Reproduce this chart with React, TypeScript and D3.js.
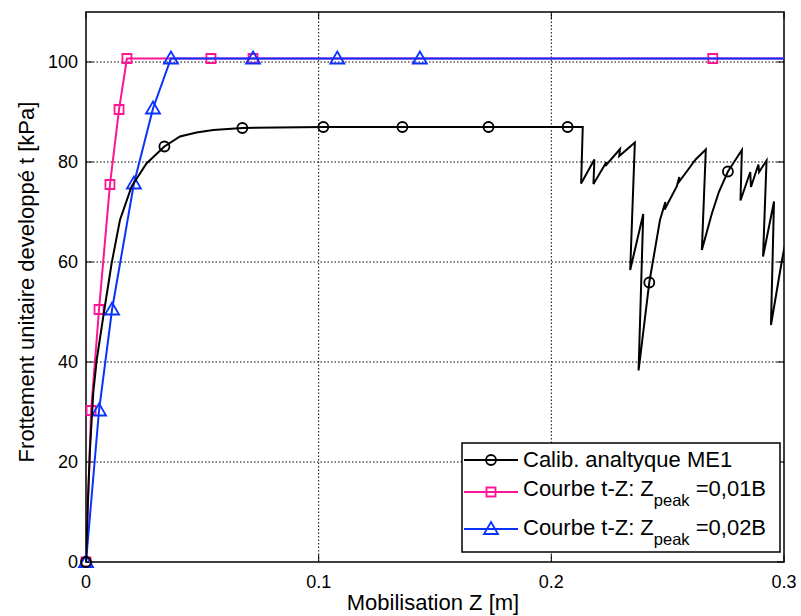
import React from "react";
import * as d3 from "d3";

const W = 801;
const H = 616;
const M = { left: 86, right: 17, top: 12, bottom: 54 };

const xTicks = [0, 0.1, 0.2, 0.3];
const yTicks = [0, 20, 40, 60, 80, 100];

// Calib. analytique ME1 (black, circles)
const calibZ = [0, 0.0008, 0.0017, 0.0031, 0.0046, 0.0074, 0.011, 0.0146, 0.0196, 0.026, 0.0337, 0.0404, 0.0475, 0.0547, 0.0672, 0.102, 0.136, 0.173, 0.207, 0.2135, 0.2128, 0.2185, 0.2181, 0.2237, 0.2232, 0.2295, 0.2292, 0.2359, 0.2339, 0.2395, 0.2375, 0.2421, 0.2467, 0.249, 0.2487, 0.2539, 0.255, 0.2548, 0.2582, 0.262, 0.2664, 0.2647, 0.269, 0.272, 0.2759, 0.2819, 0.2813, 0.2855, 0.2858, 0.289, 0.2893, 0.2925, 0.291, 0.2957, 0.2944, 0.299, 0.3, 0.302];
const calibT = [0, 12, 22.4, 33.7, 40.4, 49, 59.7, 68.4, 75.1, 79.7, 83.1, 85.1, 85.9, 86.4, 86.8, 87.0, 87.0, 87.0, 87.0, 87.0, 75.7, 80.5, 75.6, 80.0, 79.2, 82.6, 81.2, 83.9, 58.4, 69.6, 38.3, 55.9, 68.4, 72, 70.5, 75.1, 77, 76, 78.1, 80.5, 82.5, 62.4, 69.7, 74, 78.1, 82.4, 72.3, 78, 75, 79.5, 78, 80.3, 61.1, 72.1, 47.4, 60, 62.5, 66];
const calibMarkers = [0, 10, 14, 15, 16, 17, 18, 31, 44];

// Courbe t-Z: Zpeak = 0,01B (pink, squares)
const pinkZ = [0, 0.0022, 0.0056, 0.0103, 0.0142, 0.0176, 0.0537, 0.0718, 0.2694, 0.36];
const pinkT = [0, 30.3, 50.5, 75.5, 90.5, 100.7, 100.7, 100.7, 100.7, 100.7];

// Courbe t-Z: Zpeak = 0,02B (blue, triangles)
const blueZ = [0, 0.0056, 0.0112, 0.0206, 0.0288, 0.0365, 0.0718, 0.108, 0.1435, 0.5];
const blueT = [0, 30.3, 50.5, 75.7, 90.7, 100.7, 100.7, 100.7, 100.7, 100.7];

const BLACK = "#000000";
const PINK = "#ff1493";
const BLUE = "#0a32ff";
const FONT = "'Liberation Sans', Arial, sans-serif";

const x = d3.scaleLinear().domain([0, 0.3]).range([M.left, W - M.right]);
const y = d3.scaleLinear().domain([0, 110]).range([H - M.bottom, M.top]);

const squarePath = "M-4.5,-4.5L4.5,-4.5L4.5,4.5L-4.5,4.5Z";
const triPath = "M0,-7L7,5L-7,5Z";

function Marker({ kind, color, cx, cy }: { kind: string; color: string; cx: number; cy: number }) {
  if (kind === "circle")
    return <circle cx={cx} cy={cy} r={5} fill="none" stroke={color} strokeWidth={1.8} />;
  return (
    <path
      d={kind === "square" ? squarePath : triPath}
      transform={`translate(${cx},${cy})`}
      fill="none"
      stroke={color}
      strokeWidth={1.8}
    />
  );
}

const inDomain = (d: [number, number]) => d[0] <= 0.3;

export default function App() {
  const line = d3
    .line<[number, number]>()
    .x((d) => x(d[0]))
    .y((d) => y(d[1]));
  const calib = calibZ.map((z, i) => [z, calibT[i]] as [number, number]);
  const pink = pinkZ.map((z, i) => [z, pinkT[i]] as [number, number]);
  const blue = blueZ.map((z, i) => [z, blueT[i]] as [number, number]);

  const x0 = x(0), x1 = x(0.3), y0 = y(0), y1 = y(110);

  return (
    <svg width={W} height={H} style={{ position: "absolute", left: 0, top: 0, background: "#fff" }} fontFamily={FONT}>
      <defs>
        <clipPath id="plot">
          <rect x={x0} y={y1} width={x1 - x0} height={y0 - y1} />
        </clipPath>
      </defs>
      <rect x={0} y={0} width={W} height={H} fill="#fff" />
      {/* grid */}
      {yTicks.filter((t) => t > 0).map((t) => (
        <line key={"gy" + t} x1={x0} x2={x1} y1={y(t)} y2={y(t)} stroke="#000" strokeWidth={1} strokeDasharray="1.5,2" />
      ))}
      {xTicks.filter((t) => t > 0 && t < 0.3).map((t) => (
        <line key={"gx" + t} x1={x(t)} x2={x(t)} y1={y0} y2={y1} stroke="#000" strokeWidth={1} strokeDasharray="1.5,2" />
      ))}
      {/* ticks */}
      {yTicks.map((t) => (
        <g key={"ty" + t}>
          <line x1={x0} x2={x0 + 7} y1={y(t)} y2={y(t)} stroke="#000" strokeWidth={1} />
          <line x1={x1} x2={x1 - 7} y1={y(t)} y2={y(t)} stroke="#000" strokeWidth={1} />
          <text x={x0 - 8} y={y(t)} dy="0.35em" textAnchor="end" fontSize={18}>{t}</text>
        </g>
      ))}
      {xTicks.map((t) => (
        <g key={"tx" + t}>
          <line x1={x(t)} x2={x(t)} y1={y0} y2={y0 - 7} stroke="#000" strokeWidth={1} />
          <line x1={x(t)} x2={x(t)} y1={y1} y2={y1 + 7} stroke="#000" strokeWidth={1} />
          <text x={x(t)} y={y0 + 26} textAnchor="middle" fontSize={18}>{t === 0 ? "0" : String(t)}</text>
        </g>
      ))}
      {/* frame */}
      <rect x={x0} y={y1} width={x1 - x0} height={y0 - y1} fill="none" stroke="#000" strokeWidth={1.5} />
      {/* data */}
      <path d={line(pink) || ""} fill="none" stroke={PINK} strokeWidth={2} clipPath="url(#plot)" />
      {pink.filter(inDomain).map((d, i) => (
        <Marker key={"pm" + i} kind="square" color={PINK} cx={x(d[0])} cy={y(d[1])} />
      ))}
      <path d={line(blue) || ""} fill="none" stroke={BLUE} strokeWidth={2} clipPath="url(#plot)" />
      {blue.filter(inDomain).map((d, i) => (
        <Marker key={"bm" + i} kind="triangle" color={BLUE} cx={x(d[0])} cy={y(d[1])} />
      ))}
      <path d={line(calib) || ""} fill="none" stroke={BLACK} strokeWidth={2} strokeLinejoin="miter" clipPath="url(#plot)" />
      {calibMarkers.map((i) => (
        <Marker key={"cm" + i} kind="circle" color={BLACK} cx={x(calib[i][0])} cy={y(calib[i][1])} />
      ))}
      {/* axis labels */}
      <text x={433} y={y0 + 48} textAnchor="middle" fontSize={22}>Mobilisation Z [m]</text>
      <text transform={`translate(${34},${282}) rotate(-90)`} textAnchor="middle" fontSize={22}>
        Frottement unitaire developpé t [kPa]
      </text>
      {/* legend */}
      <g>
        <rect x={462} y={443} width={318} height={109} fill="#fff" stroke="#000" strokeWidth={1.5} />
        <line x1={464} x2={518} y1={460} y2={460} stroke={BLACK} strokeWidth={2} />
        <Marker kind="circle" color={BLACK} cx={491} cy={460} />
        <text x={523} y={467} fontSize={22}>Calib. analtyque ME1</text>
        <line x1={464} x2={518} y1={492} y2={492} stroke={PINK} strokeWidth={2} />
        <Marker kind="square" color={PINK} cx={491} cy={492} />
        <text x={523} y={496} fontSize={22}>
          Courbe t-Z: Z<tspan dy={10} fontSize={16.5}>peak</tspan><tspan dy={-10}> =0,01B</tspan>
        </text>
        <line x1={464} x2={518} y1={529} y2={529} stroke={BLUE} strokeWidth={2} />
        <Marker kind="triangle" color={BLUE} cx={491} cy={529} />
        <text x={523} y={535} fontSize={22}>
          Courbe t-Z: Z<tspan dy={10} fontSize={16.5}>peak</tspan><tspan dy={-10}> =0,02B</tspan>
        </text>
      </g>
    </svg>
  );
}
